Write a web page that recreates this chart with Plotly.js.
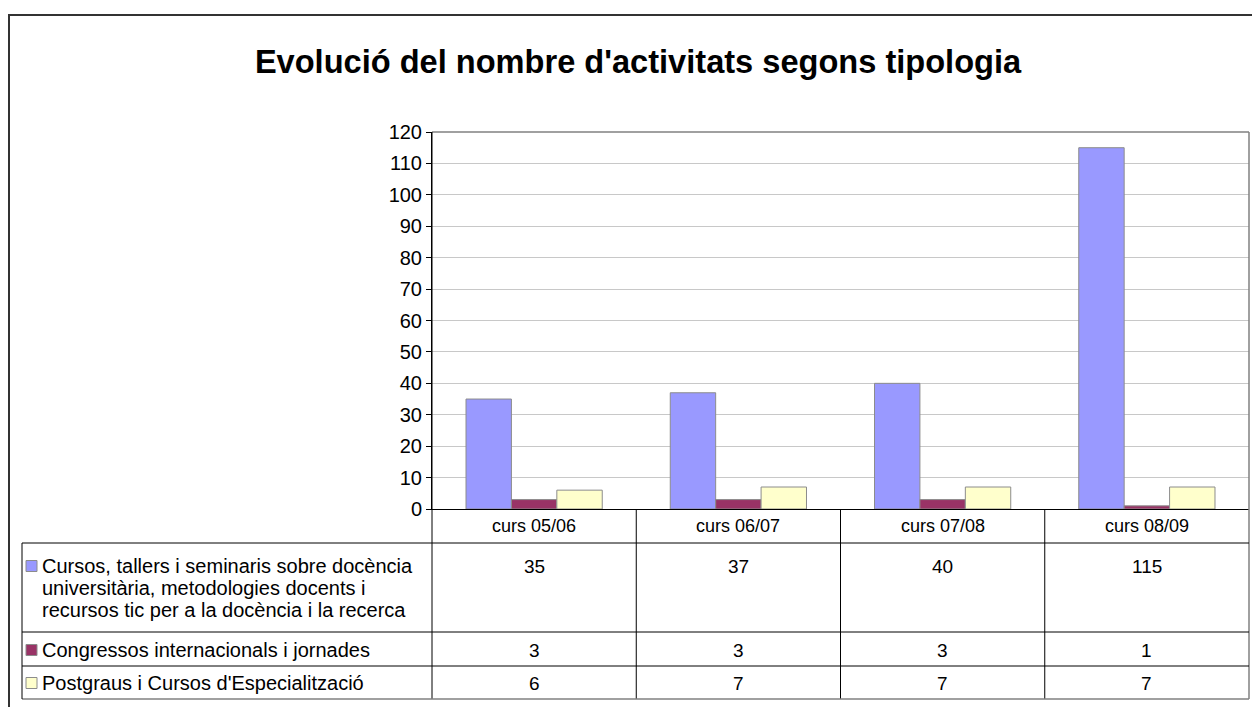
<!DOCTYPE html>
<html>
<head>
<meta charset="utf-8">
<script src="https://cdn.plot.ly/plotly-3.0.1.min.js"></script>
<style>html,body{margin:0;padding:0;background:#fff;}#chart{width:1252px;height:707px;}</style>
</head>
<body>
<div id="chart"></div>
<script>
// ---- data ----
var categories = ["curs 05/06", "curs 06/07", "curs 07/08", "curs 08/09"];
var seriesNames = [
  ["Cursos, tallers i seminaris sobre docència", "universitària, metodologies docents i", "recursos tic per a la docència i la recerca"],
  ["Congressos internacionals i jornades"],
  ["Postgraus i Cursos d'Especialització"]
];
var cursos = [35, 37, 40, 115];
var congressos = [3, 3, 3, 1];
var postgraus = [6, 7, 7, 7];
var colors = ["#9999FF", "#993366", "#FFFFCC"];
var titleText = "Evolució del nombre d'activitats segons tipologia";

// ---- layout helpers (pixel -> paper) ----
var W = 1252, H = 707;
var L = 432, R = 3, T = 132, B = 198;
var PW = W - L - R, PH = H - T - B;
function px(x) { return (x - L) / PW; }
function py(y) { return (H - B - y) / PH; }

var FONT = "Liberation Sans, Arial, sans-serif";
var allSeries = [cursos, congressos, postgraus];

var traces = allSeries.map(function (vals, i) {
  return {
    type: "bar",
    x: categories,
    y: vals,
    name: seriesNames[i].join(" "),
    marker: { color: colors[i], line: { color: "#8c8c8c", width: 1 } },
    hoverinfo: "x+y"
  };
});

// table geometry (pixels)
var rowLines = [509, 543, 632, 666, 699];
var rowFirstLine = [526, 566, 650, 683];
var lineStep = 22;
var tableLeft = 22;

var shapes = [];
var annotations = [];

// outer chart border
shapes.push({ type: "rect", xref: "paper", yref: "paper",
  x0: px(9), x1: px(1270), y0: py(725), y1: py(15),
  line: { color: "#333333", width: 2 }, fillcolor: "rgba(0,0,0,0)", layer: "above" });

// plot area top & right border (grey)
shapes.push({ type: "line", xref: "paper", yref: "paper", x0: 0, x1: 1, y0: 1, y1: 1,
  line: { color: "#808080", width: 1.5 } });
shapes.push({ type: "line", xref: "paper", yref: "paper", x0: 1, x1: 1, y0: 1, y1: py(699),
  line: { color: "#808080", width: 1.5 } });

// y-axis line extended through table
shapes.push({ type: "line", xref: "paper", yref: "paper", x0: 0, x1: 0, y0: 1, y1: py(699),
  line: { color: "#000000", width: 1 } });

// column separators in table (at category boundaries)
for (var c = 0; c < categories.length - 1; c++) {
  shapes.push({ type: "line", xref: "x", yref: "paper", x0: c + 0.5, x1: c + 0.5,
    y0: 0, y1: py(699), line: { color: "#000000", width: 1 } });
}
// horizontal table lines
for (var r = 1; r < rowLines.length; r++) {
  var last = (r === rowLines.length - 1);
  shapes.push({ type: "line", xref: "paper", yref: "paper",
    x0: px(tableLeft), x1: 1, y0: py(rowLines[r]), y1: py(rowLines[r]),
    line: { color: last ? "#808080" : "#000000", width: last ? 1.5 : 1 } });
}
// table left edge
shapes.push({ type: "line", xref: "paper", yref: "paper", x0: px(tableLeft), x1: px(tableLeft),
  y0: py(543), y1: py(699), line: { color: "#000000", width: 1 } });

// category labels in header row
categories.forEach(function (cat) {
  annotations.push({ xref: "x", yref: "paper", x: cat, y: py(rowFirstLine[0]), text: cat,
    showarrow: false, xanchor: "center", yanchor: "middle",
    font: { family: FONT, size: 18, color: "#000" } });
});

// series rows: legend key, name, values
allSeries.forEach(function (vals, i) {
  var yc = rowFirstLine[i + 1];
  shapes.push({ type: "rect", xref: "paper", yref: "paper",
    x0: px(26), x1: px(37), y0: py(yc + 5.5), y1: py(yc - 5.5),
    fillcolor: colors[i], line: { color: "#8c8c8c", width: 1 } });
  seriesNames[i].forEach(function (line, k) {
    annotations.push({ xref: "paper", yref: "paper", x: px(40), y: py(yc + k * lineStep),
      text: line, showarrow: false, xanchor: "left", yanchor: "middle", align: "left",
      font: { family: FONT, size: 20, color: "#000" } });
  });
  vals.forEach(function (v, j) {
    annotations.push({ xref: "x", yref: "paper", x: categories[j], y: py(yc),
      text: String(v), showarrow: false, xanchor: "center", yanchor: "middle",
      font: { family: FONT, size: 19, color: "#000" } });
  });
});

var layout = {
  width: W, height: H,
  margin: { l: L, r: R, t: T, b: B, pad: 0 },
  paper_bgcolor: "#ffffff",
  plot_bgcolor: "#ffffff",
  showlegend: false,
  barmode: "group",
  bargap: 0.333,
  bargroupgap: 0,
  title: {
    text: "<b>" + titleText + "</b>",
    font: { family: FONT, size: 32.6, color: "#000" },
    xref: "container", yref: "container",
    x: 638 / W, y: 1 - 62 / H, xanchor: "center", yanchor: "middle"
  },
  xaxis: {
    type: "category",
    categoryorder: "array",
    categoryarray: categories,
    range: [-0.5, categories.length - 0.5],
    showticklabels: false,
    ticks: "",
    showgrid: false,
    zeroline: false,
    showline: true,
    linecolor: "#000000",
    linewidth: 1,
    fixedrange: true
  },
  yaxis: {
    range: [0, 120],
    dtick: 10,
    tick0: 0,
    ticks: "outside",
    ticklen: 5,
    tickcolor: "#000000",
    tickwidth: 1,
    showline: true,
    linecolor: "#000000",
    linewidth: 1,
    showgrid: true,
    gridcolor: "#c8c8c8",
    gridwidth: 1,
    zeroline: false,
    tickfont: { family: FONT, size: 20, color: "#000" },
    fixedrange: true
  },
  shapes: shapes,
  annotations: annotations
};

Plotly.newPlot("chart", traces, layout, { displayModeBar: false, staticPlot: true });
</script>
</body>
</html>
